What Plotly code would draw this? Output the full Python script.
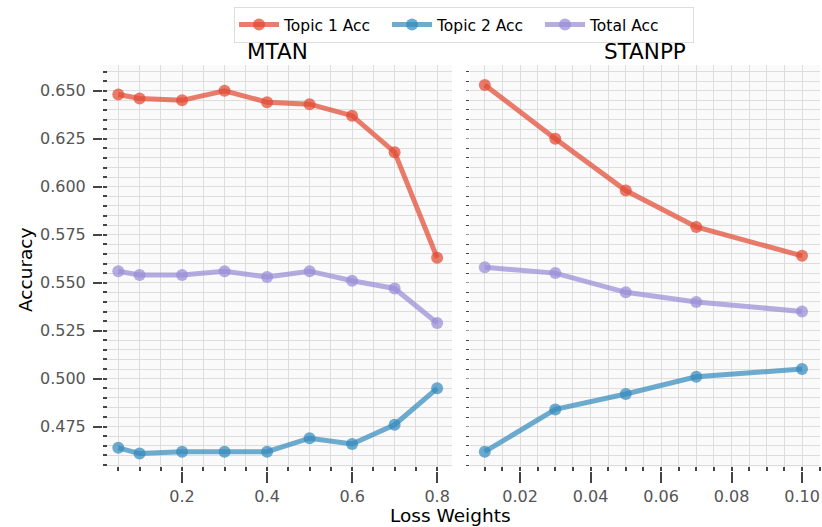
import plotly.graph_objects as go

# ---- data ----
mtan_x = [0.05, 0.1, 0.2, 0.3, 0.4, 0.5, 0.6, 0.7, 0.8]
mtan_topic1 = [0.648, 0.646, 0.645, 0.650, 0.644, 0.643, 0.637, 0.618, 0.563]
mtan_topic2 = [0.464, 0.461, 0.462, 0.462, 0.462, 0.469, 0.466, 0.476, 0.495]
mtan_total = [0.556, 0.554, 0.554, 0.556, 0.553, 0.556, 0.551, 0.547, 0.529]

stanpp_x = [0.01, 0.03, 0.05, 0.07, 0.10]
stanpp_topic1 = [0.653, 0.625, 0.598, 0.579, 0.564]
stanpp_topic2 = [0.462, 0.484, 0.492, 0.501, 0.505]
stanpp_total = [0.558, 0.555, 0.545, 0.540, 0.535]

series_names = ["Topic 1 Acc", "Topic 2 Acc", "Total Acc"]
colors = ["rgba(226,74,51,0.72)", "rgba(52,138,189,0.72)", "rgba(152,142,213,0.72)"]

W, H = 822, 527
FONT = "DejaVu Sans"
TICKC = "#444444"
GRID = "#dddddd"
BG = "#fafafa"

fig = go.Figure()

left = [mtan_topic1, mtan_topic2, mtan_total]
right = [stanpp_topic1, stanpp_topic2, stanpp_total]
for i, name in enumerate(series_names):
    fig.add_trace(go.Scatter(
        x=mtan_x, y=left[i], mode="lines+markers", name=name,
        line=dict(color=colors[i], width=5),
        marker=dict(color=colors[i], size=12),
        xaxis="x", yaxis="y", legendgroup=name, showlegend=True))
for i, name in enumerate(series_names):
    fig.add_trace(go.Scatter(
        x=stanpp_x, y=right[i], mode="lines+markers", name=name,
        line=dict(color=colors[i], width=5),
        marker=dict(color=colors[i], size=12),
        xaxis="x2", yaxis="y2", legendgroup=name, showlegend=False))

ybot = 1 - 467 / H
ytop = 1 - 65 / H
xpos = 1 - 471 / H

common_tick = dict(tickfont=dict(family=FONT, size=16, color="#555555"),
                   showline=False, zeroline=False, gridcolor=GRID, gridwidth=1,
                   tickcolor=TICKC, tickwidth=2)

fig.update_layout(
    width=W, height=H,
    margin=dict(l=0, r=0, t=0, b=0),
    paper_bgcolor="white",
    plot_bgcolor=BG,
    font=dict(family=FONT, color="black"),
    showlegend=True,
    legend=dict(orientation="h", x=234 / W, xanchor="left", y=1 - 7 / H, yanchor="top",
                bordercolor="#dddddd", borderwidth=1, bgcolor="white",
                font=dict(family=FONT, size=15.5, color="black"),
                itemwidth=40, tracegroupgap=0, entrywidth=98, entrywidthmode="pixels"),
    xaxis=dict(domain=[103 / W, 452 / W], range=[0.014, 0.835],
               anchor="free", position=xpos,
               tickvals=[0.2, 0.4, 0.6, 0.8], ticktext=["0.2", "0.4", "0.6", "0.8"],
               ticks="outside", ticklen=11,
               minor=dict(dtick=0.05, tick0=0, ticks="inside", ticklen=4, tickwidth=2,
                          tickcolor=TICKC, showgrid=True, gridcolor=GRID),
               **common_tick),
    yaxis=dict(domain=[ybot, ytop], range=[0.454, 0.6634],
               anchor="free", position=102 / W,
               tickvals=[0.475, 0.5, 0.525, 0.55, 0.575, 0.6, 0.625, 0.65],
               ticktext=["0.475", "0.500", "0.525", "0.550", "0.575", "0.600", "0.625", "0.650"],
               ticks="outside", ticklen=9, ticklabelstandoff=4,
               minor=dict(dtick=0.005, tick0=0, ticks="inside", ticklen=4, tickwidth=2,
                          tickcolor=TICKC, showgrid=True, gridcolor=GRID),
               **common_tick),
    xaxis2=dict(domain=[470 / W, 820 / W], range=[0.0058, 0.1051],
                anchor="free", position=xpos,
                tickvals=[0.02, 0.04, 0.06, 0.08, 0.10],
                ticktext=["0.02", "0.04", "0.06", "0.08", "0.10"],
                ticks="outside", ticklen=11,
                minor=dict(dtick=0.005, tick0=0, ticks="inside", ticklen=4, tickwidth=2,
                           tickcolor=TICKC, showgrid=True, gridcolor=GRID),
                **common_tick),
    yaxis2=dict(domain=[ybot, ytop], range=[0.454, 0.6634], matches="y",
                anchor="free", position=469 / W,
                tickvals=[0.475, 0.5, 0.525, 0.55, 0.575, 0.6, 0.625, 0.65],
                showticklabels=False,
                ticks="outside", ticklen=3, tickwidth=1, tickcolor="#999999",
                showline=False, zeroline=False, gridcolor=GRID,
                minor=dict(dtick=0.005, tick0=0, ticks="outside", ticklen=3, tickwidth=1,
                           tickcolor=TICKC, showgrid=True, gridcolor=GRID)),
    annotations=[
        dict(text="MTAN", x=(103 + 452) / 2 / W, y=1 - 51 / H, xref="paper", yref="paper",
             showarrow=False, font=dict(family=FONT, size=21.5, color="black"),
             xanchor="center", yanchor="middle"),
        dict(text="STANPP", x=(470 + 820) / 2 / W, y=1 - 51 / H, xref="paper", yref="paper",
             showarrow=False, font=dict(family=FONT, size=21.5, color="black"),
             xanchor="center", yanchor="middle"),
        dict(text="Accuracy", x=25 / W, y=1 - 270 / H, xref="paper", yref="paper",
             showarrow=False, textangle=-90, font=dict(family=FONT, size=18.5, color="black"),
             xanchor="center", yanchor="middle"),
        dict(text="Loss Weights", x=450 / W, y=1 - 515 / H, xref="paper", yref="paper",
             showarrow=False, font=dict(family=FONT, size=18.5, color="black"),
             xanchor="center", yanchor="middle"),
    ],
)

fig.write_html("out.html")
